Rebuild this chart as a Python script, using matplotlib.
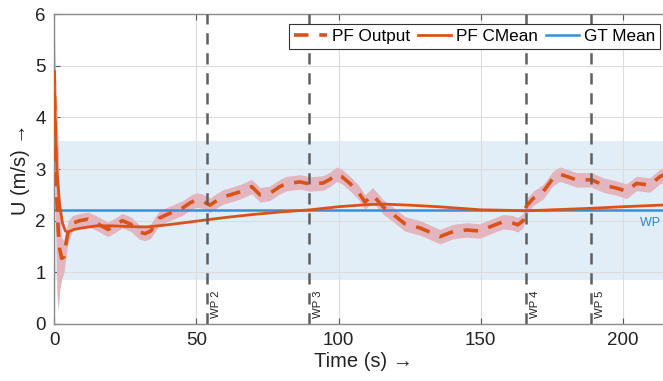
import matplotlib
matplotlib.use("Agg")
import matplotlib.pyplot as plt
import numpy as np
from matplotlib.lines import Line2D

plt.rcParams['font.family'] = ['Liberation Sans', 'DejaVu Sans']

# PF Output (dashed) samples
t_out = [0, 0.5, 1, 1.5, 2, 2.7, 3.5, 4.2, 5, 6.5, 9, 12, 15, 19, 22, 24, 27, 30, 32, 34,
         37, 41, 45, 48, 50, 52, 54.8, 57, 59.4, 62, 65.4, 69.5, 72.4, 75.9, 79.4, 81.8,
         86.4, 90, 94.6, 97, 99.3, 101, 104, 107, 109.3, 112, 115.6, 119.2, 123.3, 128.6,
         132, 135.6, 140.3, 145, 149.7, 153.2, 157.9, 161, 163, 164.9, 166, 168.4, 171.9,
         175.4, 177.8, 180, 183.6, 188.9, 193, 197.7, 201.2, 204.7, 209.4, 212.9, 217]
u_out = [4.9, 3.6, 2.4, 1.8, 1.45, 1.27, 1.3, 1.55, 1.8, 1.95, 2.0, 2.03, 1.95, 1.83, 1.93,
         2.0, 1.93, 1.78, 1.75, 1.8, 2.05, 2.15, 2.24, 2.35, 2.4, 2.38, 2.3, 2.38, 2.46, 2.5,
         2.56, 2.66, 2.5, 2.53, 2.66, 2.72, 2.75, 2.71, 2.73, 2.8, 2.9, 2.86, 2.72, 2.55, 2.36,
         2.5, 2.27, 2.12, 1.94, 1.86, 1.78, 1.69, 1.79, 1.82, 1.80, 1.88, 1.98, 1.96, 1.92,
         2.0, 2.28, 2.43, 2.56, 2.82, 2.9, 2.86, 2.79, 2.79, 2.69, 2.63, 2.57, 2.72, 2.69,
         2.85, 2.95]
# PF Output uncertainty half-width
hw_out = [1.0, 1.3, 1.8, 1.55, 0.8, 0.4, 0.3, 0.25, 0.2, 0.15, 0.14, 0.14, 0.14, 0.14, 0.14,
          0.14, 0.14, 0.14, 0.14, 0.14, 0.14, 0.14, 0.14, 0.14, 0.14, 0.14, 0.14, 0.14, 0.14,
          0.14, 0.14, 0.14, 0.14, 0.14, 0.14, 0.14, 0.14, 0.14, 0.14, 0.14, 0.14, 0.14, 0.14,
          0.14, 0.14, 0.14, 0.14, 0.14, 0.14, 0.14, 0.14, 0.14, 0.14, 0.14, 0.14, 0.14, 0.14,
          0.14, 0.14, 0.14, 0.14, 0.14, 0.14, 0.14, 0.14, 0.14, 0.14, 0.14, 0.14, 0.14, 0.14,
          0.14, 0.14, 0.14, 0.14]

# PF CMean (solid)
t_cm = [0, 0.5, 1, 2, 3, 4, 5, 7, 10, 15, 20, 25, 30, 33, 40, 50, 60, 70, 80, 90, 100, 110,
        116, 125, 135, 150, 160, 166, 175, 189, 200, 213, 217]
u_cm = [4.9, 3.8, 3.0, 2.3, 1.95, 1.8, 1.78, 1.83, 1.86, 1.9, 1.9, 1.89, 1.88, 1.88, 1.92,
        1.99, 2.06, 2.12, 2.17, 2.21, 2.27, 2.31, 2.32, 2.3, 2.27, 2.21, 2.2, 2.19, 2.21, 2.24,
        2.27, 2.3, 2.31]

gt_mean = 2.2
gt_band = [0.85, 3.54]

wp_times = [53.6, 89.7, 165.8, 188.8]
wp_labels = ['WP 2', 'WP 3', 'WP 4', 'WP 5']

xticks = [0, 50, 100, 150, 200]
yticks = [0, 1, 2, 3, 4, 5, 6]

red = '#D95319'
blue = '#3A8FD3'

fig = plt.figure(figsize=(6.63, 3.81), dpi=100)
ax = fig.add_axes([54/663, 57/381, 618/663, 310/381])

ax.axhspan(gt_band[0], gt_band[1], color='#E1EEF8', zorder=0, lw=0)

t_o = np.array(t_out); u_o = np.array(u_out); h_o = np.array(hw_out)
ax.fill_between(t_o, u_o - h_o, u_o + h_o, color='#E3B5BE', lw=0, zorder=2)

for t, lab in zip(wp_times, wp_labels):
    ax.axvline(t, color='#5F5F5F', lw=1.8, ls=(0, (4.5, 3.5)), zorder=5)
    ax.text(t + 1.5, 0.12, lab, rotation=90, fontsize=8.2, color='#222222',
            ha='left', va='bottom', zorder=6)

ax.axhline(gt_mean, color=blue, lw=1.8, zorder=3)
ax.text(205.8, 2.08, 'WP 5', color='#2F85CC', fontsize=9, ha='left', va='top', zorder=6)

l1, = ax.plot(t_out, u_out, color=red, lw=2.6, ls=(0, (4, 3)), zorder=4)
l2, = ax.plot(t_cm, u_cm, color=red, lw=2.0, zorder=4)

ax.set_xlim(0, 217.2)
ax.set_ylim(0, 6)
ax.set_xticks(xticks)
ax.set_yticks(yticks)
ax.grid(True, color='#DCDCDC', lw=0.8, zorder=1)
ax.set_axisbelow(True)
ax.tick_params(direction='in', top=True, right=True, labelsize=13.5, length=4,
               color='#555555', labelcolor='#222222', pad=6)
for s in ax.spines.values():
    s.set_color('#8A8A8A')
    s.set_linewidth(1.0)

ax.set_xlabel('Time (s) \u2192', fontsize=14.5, color='#222222', labelpad=2)
ax.set_ylabel('U (m/s) \u2192', fontsize=14.5, color='#222222', labelpad=4)

h_blue = Line2D([], [], color=blue, lw=1.8)
leg = fig.legend([l1, l2, h_blue], ['PF Output', 'PF CMean', 'GT Mean'],
                 loc='upper left', bbox_to_anchor=(289/663, 1 - 24/381),
                 bbox_transform=fig.transFigure, borderaxespad=0,
                 ncol=3, fontsize=12.3, frameon=True, fancybox=False,
                 framealpha=1, edgecolor='#333333', handlelength=1.95,
                 columnspacing=0.45, handletextpad=0.28, borderpad=0.3)
leg.get_frame().set_linewidth(0.8)
leg.set_zorder(10)

fig.savefig('out.png', dpi=100)
